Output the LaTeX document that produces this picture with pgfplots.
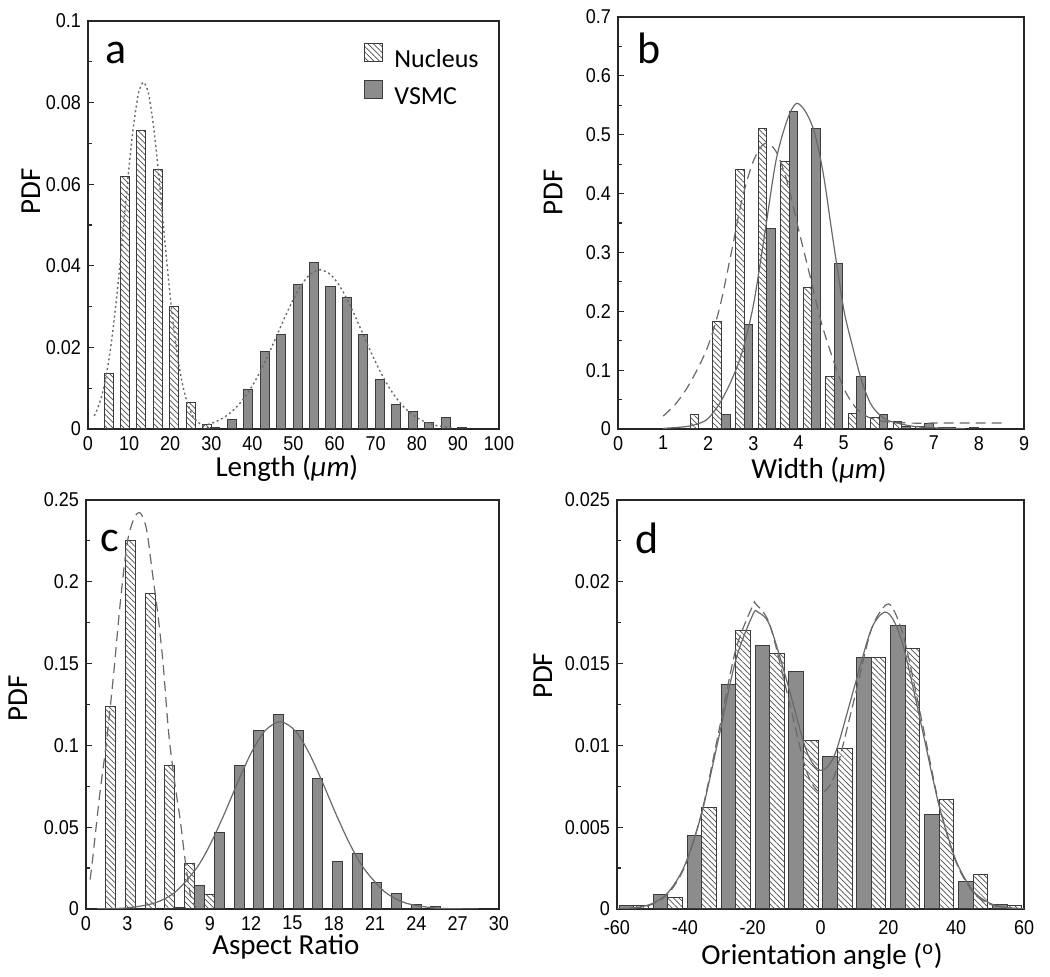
\documentclass[border=0pt]{standalone}
\usepackage{fontspec}
\usepackage{pgfplots}
\pgfplotsset{compat=1.18}
\usetikzlibrary{patterns.meta}
\newfontfamily\labfont{Carlito}
\newfontfamily\tickfnt[FakeStretch=0.9]{Liberation Sans}
\definecolor{barfill}{RGB}{140,140,140}
\definecolor{baredge}{RGB}{60,60,60}
\definecolor{curvecol}{RGB}{105,105,105}

\pgfplotsset{
 panel/.style={
  scale only axis,
  anchor=south west,
  axis line style={line width=0.8pt, black!85},
  tick align=inside,
  xtick pos=bottom, ytick pos=left,
  xtick style={draw=none},
  ytick style={line width=0.6pt, black!85},
  major tick length=3pt, minor tick length=2pt,
  minor y tick num=1,
  scaled y ticks=false, scaled x ticks=false,
  /pgf/number format/assume math mode=true,
  /pgf/number format/fixed,
  /pgf/number format/precision=3,
  tick label style={font=\fontsize{10}{11}\selectfont\tickfnt, black},
  label style={font=\fontsize{14.5}{16}\selectfont\labfont},
 },
 hatchbar/.style={ybar, bar shift=0pt, draw=baredge, line width=0.5pt,
   pattern={Lines[angle=-45,distance=2pt,line width=0.35pt]}, pattern color=black!70,
   legend image code/.code={\draw[##1] (0pt,-0.5pt) rectangle (9pt,8.5pt);}},
 solidbar/.style={ybar, bar shift=0pt, draw=baredge, line width=0.5pt, fill=barfill,
   legend image code/.code={\draw[##1] (0pt,-0.5pt) rectangle (9pt,8.5pt);}},
 curve/.style={smooth, no markers, curvecol, line width=0.6pt, forget plot},
}
\newcommand{\letterfont}{\fontsize{22}{25}\selectfont\labfont}

\begin{document}
\begin{tikzpicture}
\useasboundingbox (0,0) rectangle (525pt,488.5pt);

% ---------------- panel a ----------------
\begin{axis}[panel,
  at={(44pt,274pt)}, width=205.5pt, height=204pt,
  xmin=0, xmax=100, ymin=0, ymax=0.1,
  xtick={0,10,...,100}, ytick={0,0.02,0.04,0.06,0.08,0.1},
  xlabel={Length (\textit{µm})}, ylabel={PDF},
  xlabel style={at={(axis description cs:0.484,-0.096)}, anchor=center},
  ylabel style={at={(axis description cs:-0.139,0.583)}, anchor=center},
  legend style={at={(axis description cs:0.657,0.957)}, anchor=north west, draw=none, fill=none,
     font=\fontsize{13}{15}\selectfont\labfont, row sep=2.5pt,
     /tikz/every odd column/.append style={column sep=3.5pt}},
  legend cell align=left]
\addplot[hatchbar, bar width=2.2] coordinates {
 (5,0.0137) (9,0.0618) (13,0.0732) (17,0.0637) (21,0.0299) (25,0.0064) (29,0.0010)};
\addlegendentry{Nucleus}
\addplot[solidbar, bar width=2.2] coordinates {
 (31,0.0003) (35,0.0023) (39,0.0096) (43,0.0189) (47,0.0232) (51,0.0353) (55,0.0409)
 (59,0.0348) (63,0.0323) (67,0.0231) (71,0.0122) (75,0.0060) (79,0.0042) (83,0.0017)
 (87,0.0029) (91,0.0004)};
\addlegendentry{VSMC}
\addplot[curve, dash pattern=on 1pt off 1.4pt, line width=0.7pt] coordinates {
 (1.5,0.00322) (2,0.00421) (3,0.00694) (4,0.01093) (5,0.01646) (6,0.02367) (7,0.03255)
 (8,0.04274) (9,0.05365) (10,0.06438) (11,0.07375) (12,0.08076) (12.5,0.08309) (13.5,0.085)
 (14.5,0.08309) (15,0.08076) (16,0.07375) (17,0.06438) (18,0.05365) (19,0.04274) (20,0.03255)
 (21,0.02367) (22,0.01646) (23,0.01093) (24,0.00694) (25,0.00421) (26,0.00244) (28,0.00072)
 (30,0.00017)};
\addplot[curve, dash pattern=on 1pt off 1.4pt, line width=0.7pt] coordinates {
 (28,0.0008) (30,0.00136) (32,0.00221) (34,0.00347) (36,0.00524) (38,0.0076) (40,0.01062)
 (42,0.01428) (44,0.01849) (46,0.02303) (48,0.02762) (50,0.03187) (52,0.0354) (54,0.03785)
 (56.5,0.039) (59,0.03785) (61,0.0354) (63,0.03187) (65,0.02762) (67,0.02303) (69,0.01849)
 (71,0.01428) (73,0.01062) (75,0.0076) (77,0.00524) (79,0.00347) (81,0.00221) (83,0.00136)
 (85,0.0008) (89,0.00025)};
\node[anchor=base west, inner sep=0pt, font=\letterfont] at (rel axis cs:0.041,0.897) {a};
\end{axis}

% ---------------- panel b ----------------
\begin{axis}[panel,
  at={(309pt,274pt)}, width=203pt, height=206pt,
  xmin=0, xmax=9, ymin=0, ymax=0.7,
  xtick={0,1,...,9}, ytick={0,0.1,0.2,0.3,0.4,0.5,0.6,0.7},
  xlabel={Width (\textit{µm})}, ylabel={PDF},
  xlabel style={at={(axis description cs:0.495,-0.0995)}, anchor=center},
  ylabel style={at={(axis description cs:-0.160,0.575)}, anchor=center}]
\addplot[hatchbar, bar width=0.19] coordinates {
 (1.70,0.025) (2.20,0.182) (2.70,0.441) (3.20,0.510) (3.70,0.455) (4.20,0.241) (4.70,0.090)
 (5.20,0.027) (5.70,0.020) (6.20,0.012) (6.70,0.004) (7.20,0.002)};
\addplot[solidbar, bar width=0.19] coordinates {
 (2.39,0.024) (2.89,0.177) (3.39,0.340) (3.89,0.540) (4.39,0.510) (4.89,0.281) (5.39,0.089)
 (5.89,0.024) (6.39,0.005) (6.89,0.009) (7.39,0.002) (7.89,0.002)};
\addplot[curve, dash pattern=on 5pt off 3pt] coordinates {
 (1.0,0.022) (1.25,0.040) (1.5,0.066) (1.75,0.10) (2.0,0.142) (2.25,0.205) (2.5,0.295)
 (2.75,0.39) (3.0,0.455) (3.25,0.485) (3.5,0.472) (3.75,0.42) (4.0,0.34) (4.25,0.262)
 (4.5,0.183) (4.75,0.122) (5.0,0.07) (5.25,0.038) (5.5,0.022) (5.75,0.015) (6.0,0.012)
 (6.5,0.010) (7.0,0.010) (8.6,0.010)};
\addplot[curve] coordinates {
 (1.0,0.001) (1.5,0.004) (1.8,0.0095) (2.0,0.018) (2.25,0.043) (2.5,0.08) (2.75,0.13)
 (3.0,0.21) (3.25,0.33) (3.5,0.455) (3.75,0.525) (3.95,0.553) (4.15,0.54) (4.35,0.505)
 (4.55,0.434) (4.75,0.33) (5.0,0.205) (5.2,0.14) (5.4,0.082) (5.6,0.043) (5.8,0.024)
 (6.0,0.014) (6.5,0.005) (7.0,0.002) (7.7,0.0005)};
\node[anchor=base west, inner sep=0pt, font=\letterfont] at (rel axis cs:0.047,0.888) {b};
\end{axis}

% ---------------- panel c ----------------
\begin{axis}[panel,
  at={(43pt,34pt)}, width=206.5pt, height=204.5pt,
  xmin=0, xmax=30, ymin=0, ymax=0.25,
  xtick={0,3,...,30}, ytick={0,0.05,0.1,0.15,0.2,0.25},
  xlabel={Aspect Ratio}, ylabel={PDF},
  xlabel style={at={(axis description cs:0.484,-0.093)}, anchor=center},
  ylabel style={at={(axis description cs:-0.165,0.516)}, anchor=center}]
\addplot[hatchbar, bar width=0.72] coordinates {
 (1.8,0.124) (3.23,0.225) (4.66,0.193) (6.09,0.0876) (7.52,0.0276) (8.95,0.0088)};
\addplot[solidbar, bar width=0.72] coordinates {
 (6.83,0.0012) (8.26,0.0143) (9.69,0.047) (11.12,0.088) (12.55,0.109) (13.98,0.119)
 (15.41,0.109) (16.84,0.080) (18.27,0.029) (19.7,0.034) (21.13,0.016) (22.56,0.0096)
 (23.99,0.0029) (25.42,0.0014) (26.85,0.0005)};
\addplot[curve, dash pattern=on 5pt off 3pt] coordinates {
 (0.3,0.018) (0.5,0.032) (1.0,0.07) (1.5,0.103) (2.0,0.143) (2.5,0.188) (3.0,0.224)
 (3.5,0.239) (3.95,0.242) (4.4,0.232) (4.8,0.207) (5.25,0.178) (5.6,0.15) (6.0,0.108)
 (6.4,0.08) (6.85,0.054) (7.2,0.03) (7.6,0.008) (8.0,0.001)};
\addplot[curve] coordinates {
 (0.8,0.0001) (3,0.0007) (5,0.0037) (6.5,0.0105) (8,0.0246) (9,0.0391) (10,0.0572)
 (11,0.077) (12,0.0954) (13,0.1089) (14.1,0.1145) (15.2,0.1089) (16.2,0.0954) (17.2,0.077)
 (18.2,0.0572) (19.2,0.0391) (20.2,0.0246) (21.7,0.0105) (23.2,0.0037) (25.2,0.0007)
 (27.2,0.0001) (28.5,0.0)};
\node[anchor=base west, inner sep=0pt, font=\letterfont] at (rel axis cs:0.034,0.873) {c};
\end{axis}

% ---------------- panel d ----------------
\begin{axis}[panel,
  at={(308.5pt,34pt)}, width=203.5pt, height=204.5pt,
  xmin=-60, xmax=60, ymin=0, ymax=0.025,
  xtick={-60,-40,...,60}, ytick={0,0.005,0.01,0.015,0.02,0.025},
  xticklabel style={yshift=-2pt},
  xlabel={Orientation angle (\textsuperscript{o})}, ylabel={PDF},
  xlabel style={at={(axis description cs:0.504,-0.116)}, anchor=center},
  ylabel style={at={(axis description cs:-0.182,0.57)}, anchor=center}]
\addplot[solidbar, bar width=4.3] coordinates {
 (-57.15,0.0002) (-47.15,0.0009) (-37.15,0.0045) (-27.15,0.0137) (-17.15,0.0161)
 (-7.15,0.0145) (2.85,0.0093) (12.85,0.0154) (22.85,0.0173) (32.85,0.0058) (42.85,0.0017)
 (52.85,0.0003)};
\addplot[hatchbar, bar width=4.3] coordinates {
 (-52.85,0.0002) (-42.85,0.0007) (-32.85,0.0062) (-22.85,0.0170) (-12.85,0.0156)
 (-2.85,0.0103) (7.15,0.0098) (17.15,0.0154) (27.15,0.0159) (37.15,0.0067) (47.15,0.0021)
 (57.15,0.0002)};
\addplot[curve, dash pattern=on 5pt off 2.5pt] coordinates {
 (-60,0.00001) (-55,0.000057) (-50,0.000255) (-45,0.00091) (-40,0.0026) (-35,0.00593)
 (-30,0.01084) (-25,0.01584) (-20,0.01853) (-19,0.01862) (-15,0.01741) (-10,0.01334)
 (-5,0.00903) (-2.5,0.00766) (0,0.00712) (2.5,0.00748) (5,0.0087) (10,0.01287) (15,0.0171)
 (19.5,0.01862) (22,0.0181) (25,0.01625) (30,0.01137) (35,0.00636) (40,0.00285)
 (45,0.00102) (50,0.00029) (55,0.000067) (60,0.000012)};
\addplot[curve] coordinates {
 (-60,0.000015) (-55,0.000074) (-50,0.0003) (-45,0.000994) (-40,0.00268) (-35,0.00588)
 (-30,0.01048) (-25,0.01521) (-20,0.01797) (-18.5,0.01815) (-15,0.01736) (-10,0.01399)
 (-5,0.0102) (-2.5,0.00896) (0,0.00847) (2.5,0.0088) (5,0.0099) (10,0.01358) (15,0.01712)
 (19,0.01815) (22,0.01746) (25,0.0156) (30,0.01098) (35,0.00628) (40,0.00293) (45,0.00111)
 (50,0.00034) (55,0.000085) (60,0.000017)};
\node[anchor=base west, inner sep=0pt, font=\letterfont] at (rel axis cs:0.044,0.870) {d};
\end{axis}
\end{tikzpicture}
\end{document}
